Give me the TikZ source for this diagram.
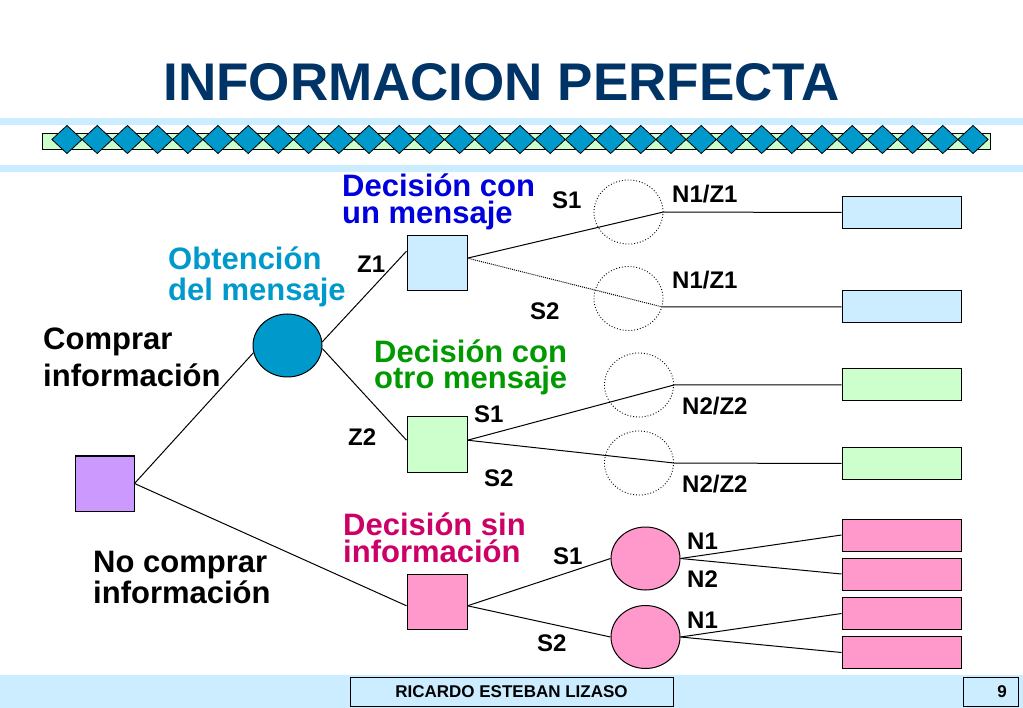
\documentclass[tikz,border=0pt]{standalone}
\usepackage{fontspec}
\setmainfont{Liberation Sans}
\usetikzlibrary{shapes.geometric}
\definecolor{bandblue}{HTML}{CCECFF}
\definecolor{diamblue}{HTML}{0099CC}
\definecolor{paleverde}{HTML}{CCFFCC}
\definecolor{titleblue}{HTML}{003366}
\definecolor{lila}{HTML}{CC99FF}
\definecolor{rosa}{HTML}{FF99CC}
\definecolor{msgblue}{HTML}{0000DD}
\definecolor{msgverde}{HTML}{009900}
\definecolor{msgrosa}{HTML}{CC0066}
\def\tworows#1#2{\vtop{\hbox{#1}\hbox{#2}}}

\begin{document}
\begin{tikzpicture}[x=1pt,y=-1pt,
	box/.style={draw=black, line width=1pt, inner sep=0pt},
	sq/.style={box, minimum width=60pt, minimum height=55pt},
	leaf/.style={box, minimum width=119pt, minimum height=32pt},
	chance/.style={ellipse, draw=black, line width=1pt, inner sep=0pt, minimum width=69pt, minimum height=63pt},
	ghost/.style={ellipse, draw=black, dotted, line width=0.9pt, inner sep=0pt, minimum width=69pt, minimum height=64pt},
	big/.style={font=\fontsize{31}{#1}\selectfont\bfseries, anchor=base west, inner sep=0pt},
	small/.style={font=\fontsize{24}{24}\selectfont\bfseries, anchor=base west, inner sep=0pt},
	branch/.style={line width=1pt}]
			%%%%% START %%%%%
			\useasboundingbox (0,0) rectangle (1023,708);
			\fill[white] (0,0) rectangle (1023,708);
			
			% title and bands
			\node[font=\fontsize{53}{53}\selectfont\bfseries, text=titleblue, anchor=base, inner sep=0pt] (title) at (501.5,101) {INFORMACION PERFECTA};
			\fill[bandblue] (0,118) rectangle (1023,125);
			\fill[bandblue] (0,165) rectangle (1023,172);
			\draw[fill=paleverde, line width=0.8pt] (42,133) rectangle (990,149.5);
			\foreach \i in {0,...,30}
				\draw[fill=diamblue, line width=0.8pt] ({67+\i*30.2},125.5) -- ++(15.1,14) -- ++(-15.1,14) -- ++(-15.1,-14) -- cycle;
			
			% decision and chance nodes
			\node[sq, fill=lila, minimum width=59pt] (pur) at (104.5,483.5) {};
			\node[chance, fill=diamblue] (obt) at (287.5,345.5) {};
			\node[sq, fill=bandblue] (sqZ1) at (437,263.5) {};
			\node[sq, fill=paleverde] (sqZ2) at (437,444.5) {};
			\node[sq, fill=rosa] (sqP) at (437,601.5) {};
			
			\node[ghost] (g1) at (628.5,212) {};
			\node[ghost] (g2) at (628.5,298.5) {};
			\node[ghost] (g3) at (639,385) {};
			\node[ghost] (g4) at (639,463) {};
			\node[chance, fill=rosa] (pc1) at (645.5,558.5) {};
			\node[chance, fill=rosa] (pc2) at (645.5,637) {};
			
			% outcomes
			\node[leaf, fill=bandblue] (lb1) at (901.5,212.5) {};
			\node[leaf, fill=bandblue] (lb2) at (901.5,307) {};
			\node[leaf, fill=paleverde] (lg1) at (901.5,385) {};
			\node[leaf, fill=paleverde] (lg2) at (901.5,463.5) {};
			\node[leaf, fill=rosa] (lp1) at (901.5,535) {};
			\node[leaf, fill=rosa] (lp2) at (901.5,574) {};
			\node[leaf, fill=rosa] (lp3) at (901.5,613.5) {};
			\node[leaf, fill=rosa] (lp4) at (901.5,652.5) {};
			
			% branches
			\draw[branch] (pur.east) -- (obt.192);
			\draw[branch] (pur.east) -- (sqP.188);
			\draw[branch] (obt.6) -- (sqZ1.158);
			\draw[branch] (obt.-5) -- (sqZ2.172);
			\draw[branch] (sqZ1.10) -- (g1.east) -- (lb1.west);
			\draw[branch, densely dotted] (sqZ1.10) -- (g2.-14);
			\draw[branch] (g2.-14) -- (lb2.west);
			\draw[branch] (sqZ2.8) -- (g3.east) -- (lg1.west);
			\draw[branch] (sqZ2.8) -- (g4.east) -- (lg2.west);
			\draw[branch] (sqP.-8) -- (pc1.west);
			\draw[branch] (sqP.-8) -- (pc2.west);
			\draw[branch] (pc1.east) -- (lp1.west);
			\draw[branch] (pc1.east) -- (lp2.west);
			\draw[branch] (pc2.east) -- (lp3.west);
			\draw[branch] (pc2.east) -- (lp4.west);
			
			% labels
			\node[big=37] (tComprar) at (43,350) {\tworows{Comprar}{información}};
			\node[big=31] (tNo) at (93,572) {\tworows{No comprar}{información}};
			\node[big=31, text=diamblue] (tObt) at (168,270) {\tworows{Obtención}{del mensaje}};
			\node[big=27, text=msgblue] (tUn) at (342,197) {\tworows{Decisión con}{un mensaje}};
			\node[big=26, text=msgverde] (tOtro) at (374,363) {\tworows{Decisión con}{otro mensaje}};
			\node[big=27, text=msgrosa] (tSin) at (343,535) {\tworows{Decisión sin}{información}};
			
			\node[small] (z1) at (357,273) {Z1};
			\node[small] (z2) at (348,446) {Z2};
			\node[small] (s1a) at (552,209) {S1};
			\node[small] (s2a) at (530,320) {S2};
			\node[small] (s1b) at (474,423) {S1};
			\node[small] (s2b) at (484,486) {S2};
			\node[small] (s1c) at (553,564) {S1};
			\node[small] (s2c) at (537,651) {S2};
			\node[small] (nz1a) at (672,203) {N1/Z1};
			\node[small] (nz1b) at (672,289) {N1/Z1};
			\node[small] (nz2a) at (682,415) {N2/Z2};
			\node[small] (nz2b) at (682,493) {N2/Z2};
			\node[small] (n1a) at (687,549) {N1};
			\node[small] (n2a) at (687,587) {N2};
			\node[small] (n1b) at (687,628) {N1};
			
			% footer
			\fill[bandblue] (0,675) rectangle (1023,708);
			\draw[fill=bandblue, line width=0.8pt] (350,677) rectangle (673,706);
			\draw[fill=bandblue, line width=0.8pt] (963,677) rectangle (1018,706);
			\node[font=\fontsize{17}{17}\selectfont\bfseries, anchor=base, inner sep=0pt] (autor) at (511.5,697) {RICARDO ESTEBAN LIZASO};
			\node[font=\fontsize{17}{17}\selectfont\bfseries, anchor=base east, inner sep=0pt] (pag) at (1007,697) {9};
			%%%%% END %%%%%
		\end{tikzpicture}
\end{document}
